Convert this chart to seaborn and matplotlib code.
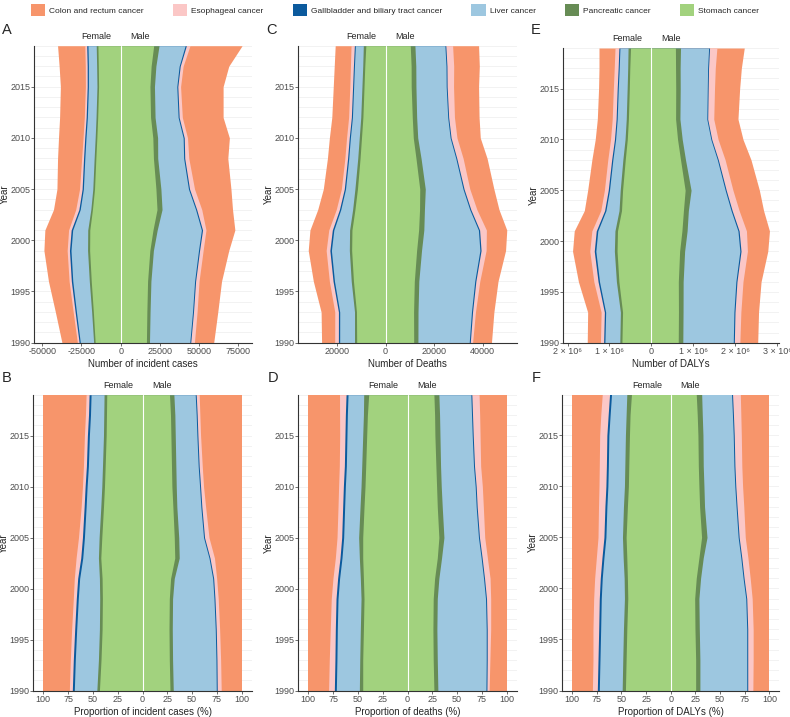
import matplotlib
matplotlib.use("Agg")
import matplotlib.pyplot as plt
from matplotlib.patches import Patch
from matplotlib.ticker import MultipleLocator, FuncFormatter
import pandas as pd
import seaborn as sns

sns.set_theme(style="ticks")
plt.rcParams["font.family"] = ["Liberation Sans", "DejaVu Sans"]
plt.rcParams["axes.unicode_minus"] = False

# ---- data ----
years = [1990, 1993, 1996, 1999, 2001, 2003, 2005, 2008, 2010, 2012, 2015, 2017, 2019]

causes = ["Colon and rectum cancer", "Esophageal cancer", "Gallbladder and biliary tract cancer",
          "Liver cancer", "Pancreatic cancer", "Stomach cancer"]

# totals of all six cancers per sex
inc_total_female = [37400, 41600, 46000, 48900, 48300, 42800, 40600, 40200, 39600, 38900, 38400, 39200, 40200]
inc_total_male = [59300, 61900, 64300, 68900, 72800, 71300, 70300, 68300, 69300, 65300, 65300, 68900, 77400]
death_total_female = [26300, 26500, 29700, 31800, 31100, 27900, 25600, 23900, 23100, 22100, 21500, 21100, 20700]
death_total_male = [43600, 44600, 46300, 49400, 49900, 46700, 44600, 41800, 39000, 38500, 38300, 38600, 38300]
daly_total_female = [1530000, 1520000, 1740000, 1880000, 1840000, 1600000, 1520000, 1420000, 1340000,
                     1290000, 1260000, 1250000, 1250000]
daly_total_male = [2530000, 2550000, 2610000, 2770000, 2810000, 2670000, 2570000, 2370000, 2180000,
                   2060000, 2100000, 2140000, 2210000]

# share of each cancer (%)
inc_share_female = {
    "Stomach cancer": [43.4, 41.8, 40.7, 40.4, 40.7, 42.0, 41.0, 39.3, 38.3, 37.6, 36.6, 36.3, 36.0],
    "Pancreatic cancer": [2.6, 2.6, 2.7, 2.7, 2.7, 2.4, 2.7, 2.7, 2.7, 2.7, 2.7, 2.7, 2.7],
    "Liver cancer": [22.7, 23.3, 22.9, 21.6, 19.9, 15.8, 14.8, 14.8, 14.8, 14.2, 14.2, 13.4, 13.1],
    "Gallbladder and biliary tract cancer": [2.0] * 13,
    "Esophageal cancer": [3.0, 3.0, 3.1, 3.0, 3.4, 4.7, 4.0, 3.0, 2.7, 3.0, 3.0, 3.1, 3.0],
    "Colon and rectum cancer": [26.3, 27.3, 28.6, 30.3, 31.3, 33.1, 35.5, 38.2, 39.5, 40.5, 41.5, 42.5, 43.2],
}
inc_share_male = {
    "Stomach cancer": [27.7, 27.0, 26.7, 27.0, 28.3, 32.5, 32.0, 30.6, 29.6, 29.2, 28.6, 28.2, 27.2],
    "Pancreatic cancer": [3.3, 3.3, 3.3, 3.3, 3.7, 4.5, 4.5, 4.0, 4.4, 4.4, 4.4, 4.4, 4.4],
    "Liver cancer": [43.3, 43.7, 43.3, 41.7, 38.7, 30.0, 25.0, 24.2, 23.5, 22.5, 21.8, 21.5, 21.5],
    "Gallbladder and biliary tract cancer": [1.0] * 13,
    "Esophageal cancer": [4.0, 3.7, 3.4, 3.3, 3.0, 4.5, 4.5, 3.8, 3.0, 3.1, 2.7, 2.7, 3.0],
    "Colon and rectum cancer": [20.7, 21.3, 22.3, 23.7, 25.3, 27.5, 33.0, 36.4, 38.5, 39.8, 41.5, 42.2, 42.9],
}
death_share_female = {
    "Stomach cancer": [45.1, 45.1, 44.4, 43.8, 44.4, 45.1, 45.1, 43.8, 42.8, 42.1, 41.1, 40.4, 39.1],
    "Pancreatic cancer": [3.4, 3.0, 3.1, 3.0, 3.1, 3.4, 4.1, 4.0, 4.0, 4.0, 4.0, 4.0, 5.0],
    "Liver cancer": [23.2, 23.0, 23.2, 23.2, 20.9, 17.5, 15.1, 15.5, 15.8, 15.5, 15.9, 16.2, 15.8],
    "Gallbladder and biliary tract cancer": [2.0] * 13,
    "Esophageal cancer": [5.8, 5.7, 5.1, 4.8, 4.7, 4.7, 4.7, 4.7, 4.8, 5.1, 5.3, 5.8, 6.6],
    "Colon and rectum cancer": [20.5, 21.2, 22.2, 23.2, 24.9, 27.3, 29.0, 30.0, 30.6, 31.3, 31.7, 31.6, 31.5],
}
death_share_male = {
    "Stomach cancer": [26.6, 25.9, 25.6, 25.9, 27.3, 30.0, 31.6, 30.0, 29.3, 28.6, 27.6, 27.3, 26.6],
    "Pancreatic cancer": [4.0, 4.1, 4.0, 4.1, 4.3, 4.3, 5.1, 5.0, 4.7, 4.7, 5.1, 5.0, 5.0],
    "Liver cancer": [48.4, 49.3, 49.7, 48.6, 45.0, 39.9, 34.8, 34.2, 34.2, 33.2, 32.5, 32.2, 32.2],
    "Gallbladder and biliary tract cancer": [1.0] * 13,
    "Esophageal cancer": [2.2, 2.7, 3.5, 4.2, 5.6, 5.3, 5.3, 6.2, 6.2, 6.2, 6.9, 7.2, 7.3],
    "Colon and rectum cancer": [17.8, 17.0, 16.2, 16.2, 16.8, 19.5, 22.2, 23.6, 24.6, 26.3, 26.9, 27.3, 27.9],
}
daly_share_female = {
    "Stomach cancer": [46.0, 45.3, 44.6, 43.6, 44.0, 44.6, 45.3, 44.0, 43.0, 42.6, 41.9, 41.3, 39.9],
    "Pancreatic cancer": [3.3, 3.4, 3.4, 3.4, 3.3, 3.7, 3.7, 4.0, 4.0, 4.0, 4.1, 4.0, 4.7],
    "Liver cancer": [23.2, 23.1, 23.1, 23.5, 22.2, 19.5, 16.8, 16.8, 16.8, 16.7, 16.8, 16.2, 15.5],
    "Gallbladder and biliary tract cancer": [2.0] * 13,
    "Esophageal cancer": [5.0, 5.1, 5.8, 5.7, 5.7, 5.7, 6.0, 6.5, 7.0, 7.2, 7.3, 7.5, 7.4],
    "Colon and rectum cancer": [20.5, 21.1, 21.1, 21.8, 22.8, 24.5, 26.2, 26.7, 27.2, 27.5, 27.9, 29.0, 30.5],
}
daly_share_male = {
    "Stomach cancer": [25.2, 25.2, 24.5, 24.2, 25.8, 28.5, 31.2, 29.2, 28.5, 27.9, 27.5, 26.8, 25.8],
    "Pancreatic cancer": [4.3, 4.3, 4.4, 4.3, 4.4, 4.4, 5.5, 5.0, 5.1, 5.0, 5.1, 5.1, 5.5],
    "Liver cancer": [47.5, 47.5, 48.1, 47.5, 43.1, 38.1, 31.6, 32.0, 31.3, 31.1, 30.7, 30.6, 30.3],
    "Gallbladder and biliary tract cancer": [1.0] * 13,
    "Esophageal cancer": [5.2, 5.5, 5.5, 5.5, 6.2, 6.2, 6.2, 6.8, 6.9, 7.0, 7.2, 7.5, 7.9],
    "Colon and rectum cancer": [16.8, 16.5, 16.5, 17.5, 19.5, 21.8, 24.5, 26.0, 27.2, 28.0, 28.5, 29.0, 29.5],
}

colors = {
    "Colon and rectum cancer": "#F7956B",
    "Esophageal cancer": "#FBC7C6",
    "Gallbladder and biliary tract cancer": "#0B5A9D",
    "Liver cancer": "#9DC7E0",
    "Pancreatic cancer": "#678C55",
    "Stomach cancer": "#A2D27E",
}
# stacked from the zero line outwards
stack_order = ["Stomach cancer", "Pancreatic cancer", "Liver cancer",
               "Gallbladder and biliary tract cancer", "Esophageal cancer", "Colon and rectum cancer"]

W, H = 790, 717
FS = 6.5


def box(l, t, r, b):
    return [l / W, 1 - b / H, (r - l) / W, (b - t) / H]


def cumulative(share, total=None):
    df = pd.DataFrame(share, index=years)[stack_order]
    df = df.div(df.sum(axis=1), axis=0)
    df = df * 100 if total is None else df.mul(total, axis=0)
    return df.cumsum(axis=1)


def draw_panel(ax, share_f, share_m, total_f=None, total_m=None, step=25, fmt=None, xlabel=""):
    for share, total, sign in [(share_f, total_f, -1), (share_m, total_m, 1)]:
        cum = cumulative(share, total)
        # outermost first, each band drawn from zero so there are no seams
        for cause in reversed(stack_order):
            ax.fill_betweenx(years, 0, sign * cum[cause].values, color=colors[cause], lw=0, zorder=2)
    ax.axvline(0, color="white", lw=0.8, zorder=3)

    ax.margins(x=0.05, y=0)
    ax.set_ylim(1990, 2019)
    ax.set_yticks(range(1990, 2016, 5))
    ax.set_yticks(range(1990, 2020), minor=True)
    ax.grid(axis="y", which="both", color="#EDEDED", lw=0.5, zorder=0)
    ax.grid(axis="x", visible=False)
    ax.set_axisbelow(True)

    ax.xaxis.set_major_locator(MultipleLocator(step))
    ax.xaxis.set_major_formatter(FuncFormatter(fmt if fmt else lambda v, p: f"{abs(int(round(v)))}"))

    ax.tick_params(axis="both", which="major", length=2, width=0.5, color="#333333",
                   labelsize=FS, labelcolor="#4D4D4D", pad=1.2)
    ax.tick_params(axis="y", which="major", pad=0.6)
    ax.tick_params(axis="y", which="minor", length=0)
    sns.despine(ax=ax)
    for side in ["left", "bottom"]:
        ax.spines[side].set_color("#333333")
        ax.spines[side].set_linewidth(0.8)

    ax.set_xlabel(xlabel, fontsize=FS + 0.5, labelpad=2)
    ax.set_ylabel("Year", fontsize=FS + 0.5, labelpad=0.5)

    ax.annotate("Female", xy=(0, 1), xycoords=("data", "axes fraction"), xytext=(-6.5, 6.5),
                textcoords="offset points", ha="right", va="center", fontsize=FS)
    ax.annotate("Male", xy=(0, 1), xycoords=("data", "axes fraction"), xytext=(7, 6.5),
                textcoords="offset points", ha="left", va="center", fontsize=FS)


def daly_fmt(v, p):
    n = int(round(abs(v) / 1e6))
    return "0" if n == 0 else f"{n} × 10⁶"


fig = plt.figure(figsize=(W / 100, H / 100), dpi=100)

ax_a = fig.add_axes(box(34, 45.7, 252, 342.7))
ax_c = fig.add_axes(box(298.3, 45.7, 516.7, 342.7))
ax_e = fig.add_axes(box(562.7, 48, 779.3, 342.7))
ax_b = fig.add_axes(box(33.3, 394.7, 251.7, 690.7))
ax_d = fig.add_axes(box(298.3, 394.7, 516.7, 690.7))
ax_f = fig.add_axes(box(562.3, 394.5, 779.3, 690.5))

draw_panel(ax_a, inc_share_female, inc_share_male, inc_total_female, inc_total_male,
           step=25000, fmt=lambda v, p: f"{int(round(v))}", xlabel="Number of incident cases")
draw_panel(ax_c, death_share_female, death_share_male, death_total_female, death_total_male,
           step=20000, xlabel="Number of Deaths")
draw_panel(ax_e, daly_share_female, daly_share_male, daly_total_female, daly_total_male,
           step=1e6, fmt=daly_fmt, xlabel="Number of DALYs")
draw_panel(ax_b, inc_share_female, inc_share_male, xlabel="Proportion of incident cases (%)")
draw_panel(ax_d, death_share_female, death_share_male, xlabel="Proportion of deaths (%)")
draw_panel(ax_f, daly_share_female, daly_share_male, xlabel="Proportion of DALYs (%)")

for letter, x, y in [("A", 2, 30), ("C", 266, 30), ("E", 531, 30),
                     ("B", 2, 377.5), ("D", 268, 377.5), ("F", 532, 378)]:
    fig.text(x / W, 1 - y / H, letter, ha="left", va="center", fontsize=10.5)

handles = [Patch(facecolor=colors[c], edgecolor="none") for c in causes]
fig.legend(handles, causes, loc="center", bbox_to_anchor=(0.5, 1 - 10 / H), ncol=6, frameon=False,
           fontsize=6, handlelength=1.7, handleheight=2.0, handletextpad=0.5, columnspacing=3.5,
           borderaxespad=0, borderpad=0)

fig.savefig("out.png", dpi=100)
plt.close(fig)
